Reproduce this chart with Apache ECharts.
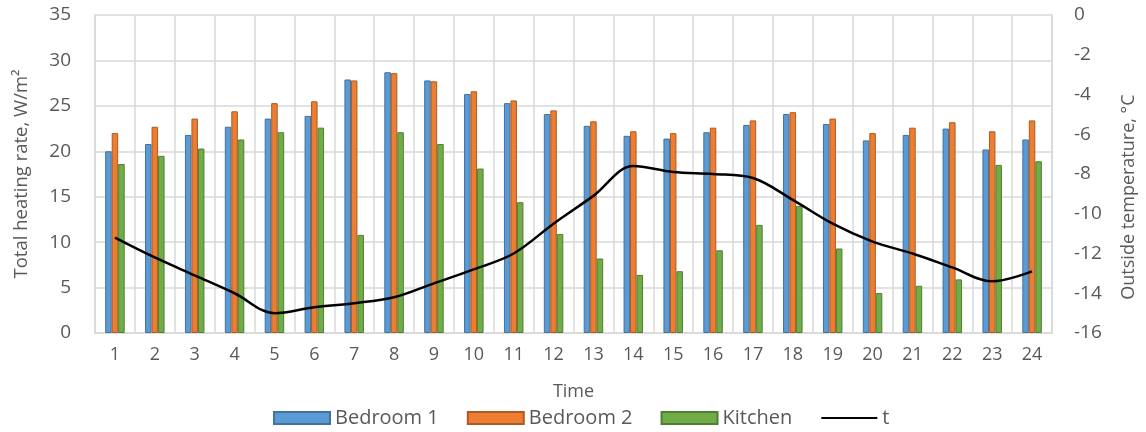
<!DOCTYPE html>
<html>
<head>
<meta charset="utf-8">
<script src="https://cdn.jsdelivr.net/npm/echarts@6/dist/echarts.min.js"></script>
<style>html,body{margin:0;padding:0;background:#fff}#c{width:1146px;height:432px}</style>
</head>
<body>
<div id="c"></div>
<script>
const categories = ['1','2','3','4','5','6','7','8','9','10','11','12','13','14','15','16','17','18','19','20','21','22','23','24'];
const bedroom1 = [20.0,20.8,21.8,22.7,23.6,23.9,27.9,28.7,27.8,26.3,25.3,24.1,22.8,21.7,21.4,22.1,22.9,24.1,23.0,21.2,21.8,22.5,20.2,21.3];
const bedroom2 = [22.0,22.7,23.6,24.4,25.3,25.5,27.8,28.6,27.7,26.6,25.6,24.5,23.3,22.2,22.0,22.6,23.4,24.3,23.6,22.0,22.6,23.2,22.2,23.4];
const kitchen  = [18.6,19.5,20.3,21.3,22.1,22.6,10.8,22.1,20.8,18.1,14.4,10.9,8.2,6.4,6.8,9.1,11.9,14.0,9.3,4.4,5.2,5.9,18.5,18.9];
const temperature = [-11.2,-12.2,-13.1,-14.0,-15.0,-14.7,-14.5,-14.2,-13.5,-12.8,-12.0,-10.5,-9.1,-7.6,-7.9,-8.0,-8.2,-9.3,-10.5,-11.4,-12.0,-12.7,-13.4,-12.9];

const font = '"Open Sans", "Liberation Sans", sans-serif';
const txt = '#595959';
const grid = '#D9D9D9';
const chart = echarts.init(document.getElementById('c'));
function bar(name, data, fill, border) {
  return {name, type:'bar', data, yAxisIndex:0, barWidth:6.5, barGap:'0%',
    itemStyle:{color:fill, borderColor:border, borderWidth:1}};
}
chart.setOption({
  animation:false,
  textStyle:{fontFamily:font},
  grid:{left:95, right:94, top:15, bottom:99, containLabel:false},
  legend:{
    bottom:-1, left:268, itemGap:28, itemWidth:56, itemHeight:12,
    textStyle:{color:txt, fontSize:20, fontFamily:font},
    data:[
      {name:'Bedroom 1', icon:'rect'},
      {name:'Bedroom 2', icon:'rect'},
      {name:'Kitchen', icon:'rect'},
      {name:'t', itemStyle:{opacity:0}}
    ]
  },
  xAxis:{
    type:'category', data:categories, name:'Time', nameLocation:'middle', nameGap:50,
    nameTextStyle:{color:txt, fontSize:18, fontFamily:font},
    axisLine:{lineStyle:{color:grid, width:1.5}}, axisTick:{show:false},
    axisLabel:{color:txt, fontSize:18, margin:13, fontFamily:font},
    splitLine:{show:true, lineStyle:{color:grid, width:1.5}}
  },
  yAxis:[
    {type:'value', min:0, max:35, interval:5, name:'Total heating rate, W/m²',
     nameLocation:'middle', nameGap:64, nameRotate:90,
     nameTextStyle:{color:txt, fontSize:18.5, fontFamily:font},
     axisLine:{show:true, lineStyle:{color:grid, width:1.5}}, axisTick:{show:false},
     axisLabel:{color:txt, fontSize:19, margin:24, fontFamily:font},
     splitLine:{lineStyle:{color:grid, width:1.5}}},
    {type:'value', min:-16, max:0, interval:2, name:'Outside temperature, °C',
     nameLocation:'middle', nameGap:68, nameRotate:90,
     nameTextStyle:{color:txt, fontSize:18, fontFamily:font, padding:[0,46,0,0]},
     axisLine:{show:true, lineStyle:{color:grid, width:1.5}}, axisTick:{show:false},
     axisLabel:{color:txt, fontSize:19, margin:22, fontFamily:font},
     splitLine:{show:false}}
  ],
  series:[
    bar('Bedroom 1', bedroom1, '#5B9BD5', '#41719C'),
    bar('Bedroom 2', bedroom2, '#ED7D31', '#AE5A21'),
    bar('Kitchen', kitchen, '#70AD47', '#507E32'),
    {name:'t', type:'line', yAxisIndex:1, data:temperature, smooth:0.35, symbol:'none',
     lineStyle:{color:'#000', width:2.5}, itemStyle:{color:'#000'}}
  ]
});
</script>
</body>
</html>
